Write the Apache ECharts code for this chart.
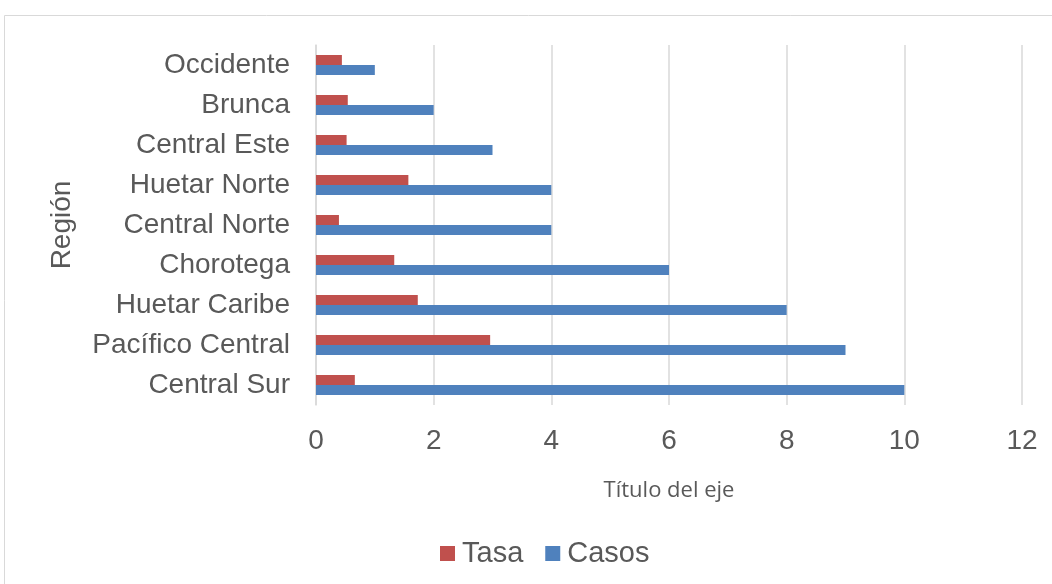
<!DOCTYPE html>
<html>
<head>
<meta charset="utf-8">
<script src="https://cdn.jsdelivr.net/npm/echarts@6/dist/echarts.min.js"></script>
<style>
  html, body { margin: 0; padding: 0; background: #fff; }
  #chart { width: 1052px; height: 584px; }
</style>
</head>
<body>
<div id="chart"></div>
<script>
// categorias de abajo hacia arriba
const regiones = ['Central Sur', 'Pacífico Central', 'Huetar Caribe', 'Chorotega', 'Central Norte',
  'Huetar Norte', 'Central Este', 'Brunca', 'Occidente'];
const casos = [10, 9, 8, 6, 4, 4, 3, 2, 1];
const tasa = [0.66, 2.96, 1.73, 1.33, 0.39, 1.57, 0.52, 0.54, 0.44];
const xTicks = [0, 2, 4, 6, 8, 10, 12];

const myChart = echarts.init(document.getElementById('chart'));
const option = {
  animation: false,
  graphic: [{
    type: 'rect',
    shape: { x: 4.5, y: 15.5, width: 1060, height: 600 },
    style: { fill: 'none', stroke: '#d9d9d9', lineWidth: 1 }
  }],
  legend: {
    data: ['Tasa', 'Casos'],
    top: 534,
    left: 435,
    icon: 'rect',
    itemWidth: 15,
    itemHeight: 15,
    itemGap: 22,
    textStyle: { fontFamily: 'Liberation Sans', fontSize: 29, color: '#595959', padding: [0, 0, 0, 2] }
  },
  grid: { left: 316, right: 30, top: 45, bottom: 179 },
  xAxis: {
    type: 'value',
    min: xTicks[0],
    max: xTicks[xTicks.length - 1],
    interval: 2,
    name: 'Título del eje',
    nameLocation: 'middle',
    nameGap: 75,
    nameTextStyle: { fontFamily: 'Open Sans', fontSize: 22, color: '#595959' },
    axisLine: { show: false },
    axisTick: { show: false },
    axisLabel: { fontFamily: 'Liberation Sans', fontSize: 28, color: '#595959', margin: 22 },
    splitLine: { lineStyle: { color: '#d9d9d9', width: 1.5 } }
  },
  yAxis: {
    type: 'category',
    data: regiones,
    name: 'Región',
    nameLocation: 'middle',
    nameGap: 240,
    nameTextStyle: { fontFamily: 'Liberation Sans', fontSize: 28, color: '#595959' },
    axisLine: { show: true, lineStyle: { color: '#d9d9d9', width: 1.5 } },
    axisTick: { show: false },
    axisLabel: { fontFamily: 'Liberation Sans', fontSize: 28, color: '#595959', margin: 26, padding: [4, 0, 0, 0] }
  },
  series: [
    {
      name: 'Tasa',
      type: 'bar',
      data: tasa,
      barWidth: 10,
      barGap: '0%',
      itemStyle: { color: '#C0504D' }
    },
    {
      name: 'Casos',
      type: 'bar',
      data: casos,
      barWidth: 10,
      barGap: '0%',
      itemStyle: { color: '#4F81BD' }
    }
  ]
};
myChart.setOption(option);
</script>
</body>
</html>
